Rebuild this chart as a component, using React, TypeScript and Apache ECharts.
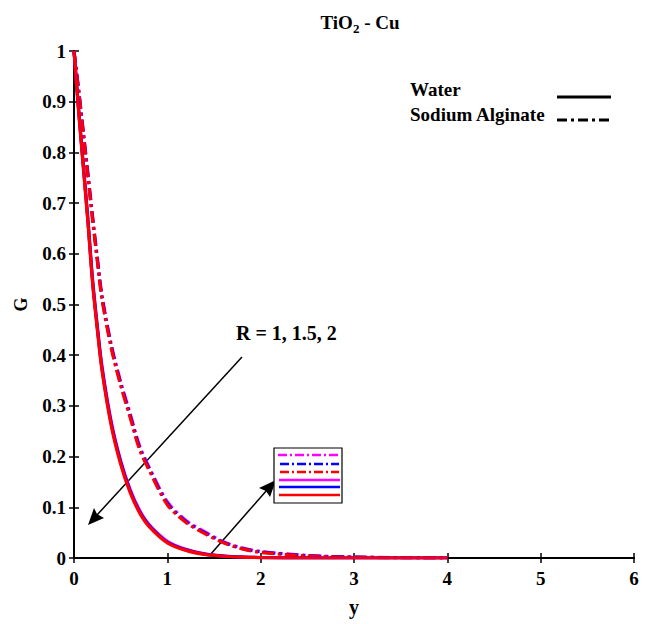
import React, { useEffect, useRef } from "react";
import * as echarts from "echarts";

const yPos = [0, 0.05, 0.1, 0.15, 0.2, 0.25, 0.3, 0.4, 0.5, 0.6, 0.7, 0.8, 1.0, 1.2, 1.4, 1.6, 1.8, 2.0, 2.5, 3.0, 3.5, 4.0];

const waterR1 = [1, 0.88, 0.77, 0.66, 0.54, 0.45, 0.37, 0.26, 0.185, 0.13, 0.09, 0.063, 0.03, 0.015, 0.007, 0.0035, 0.0017, 0.0008, 0.0001, 0, 0, 0];
const waterR15 = [1, 0.882, 0.773, 0.663, 0.544, 0.454, 0.374, 0.264, 0.189, 0.133, 0.092, 0.065, 0.031, 0.016, 0.0075, 0.0037, 0.0018, 0.0009, 0.0001, 0, 0, 0];
const waterR2 = [1, 0.884, 0.776, 0.667, 0.548, 0.458, 0.378, 0.268, 0.192, 0.136, 0.095, 0.067, 0.033, 0.017, 0.008, 0.004, 0.002, 0.001, 0.0001, 0, 0, 0];

const sodiumR1 = [1, 0.92, 0.835, 0.75, 0.665, 0.585, 0.51, 0.413, 0.34, 0.278, 0.215, 0.175, 0.105, 0.07, 0.048, 0.03, 0.018, 0.011, 0.004, 0.0015, 0.0005, 0.0002];
const sodiumR15 = [1, 0.922, 0.838, 0.754, 0.669, 0.589, 0.514, 0.417, 0.344, 0.282, 0.219, 0.178, 0.108, 0.072, 0.05, 0.031, 0.019, 0.012, 0.0045, 0.0017, 0.0006, 0.0002];
const sodiumR2 = [1, 0.924, 0.841, 0.758, 0.673, 0.593, 0.518, 0.421, 0.348, 0.286, 0.223, 0.181, 0.111, 0.074, 0.052, 0.032, 0.02, 0.013, 0.005, 0.0019, 0.0007, 0.0003];

const xTicks = [0, 1, 2, 3, 4, 5, 6];
const yTickLabels = ["0", "0.1", "0.2", "0.3", "0.4", "0.5", "0.6", "0.7", "0.8", "0.9", "1"];

const SERIF = "'Liberation Serif', 'DejaVu Serif', serif";
const DASHDOT = [12, 4, 3, 4];

function pairs(ys: number[]) {
  return yPos.map((x, i) => [x, ys[i]]);
}

export default function App() {
  const ref = useRef<HTMLDivElement>(null);
  useEffect(() => {
    document.body.style.margin = "0";
    const chart = echarts.init(ref.current!, undefined, { renderer: "svg" });
    const axisLabel = { color: "#000", fontFamily: SERIF, fontWeight: "bold" as const, fontSize: 19 };
    const mk = (name: string, data: number[], color: string, dash: boolean) => ({
      name,
      type: "line",
      data: pairs(data),
      showSymbol: false,
      smooth: 0.3,
      lineStyle: { color, width: 3.2, type: dash ? DASHDOT : "solid" },
      z: 3,
    });
    chart.setOption({
      animation: false,
      backgroundColor: "#fff",
      title: {
        text: "TiO{sub|2} - Cu",
        left: 355,
        textAlign: "center",
        top: 5,
        textStyle: {
          fontFamily: SERIF,
          fontWeight: "bold",
          fontSize: 19,
          color: "#000",
          rich: { sub: { fontFamily: SERIF, fontWeight: "bold", fontSize: 13, verticalAlign: "bottom", padding: [12, 0, 0, 0] } },
        },
      },
      grid: { left: 74, top: 51, right: 23, bottom: 66 },
      xAxis: [
        {
          type: "value",
          min: 0,
          max: 6,
          interval: 1,
          position: "bottom",
          axisLine: { lineStyle: { color: "#000", width: 2 } },
          axisTick: { inside: true, length: 5, lineStyle: { color: "#000", width: 1.5 } },
          axisLabel: { ...axisLabel, margin: 11, formatter: (v: number) => String(xTicks[v] ?? v) },
          splitLine: { show: false },
          name: "y",
          nameLocation: "middle",
          nameGap: 39,
          nameTextStyle: { ...axisLabel, fontSize: 20 },
        },
        {
          type: "value",
          min: 0,
          max: 6,
          interval: 1,
          position: "top",
          axisLine: { lineStyle: { color: "#000", width: 2 } },
          axisTick: { inside: true, length: 5, lineStyle: { color: "#000", width: 1.5 } },
          axisLabel: { show: false },
          splitLine: { show: false },
        },
      ],
      yAxis: [
        {
          type: "value",
          min: 0,
          max: 1,
          interval: 0.1,
          position: "left",
          axisLine: { lineStyle: { color: "#000", width: 2 } },
          axisTick: { inside: true, length: 5, lineStyle: { color: "#000", width: 1.5 } },
          axisLabel: { ...axisLabel, margin: 8, formatter: (v: number) => yTickLabels[Math.round(v * 10)] },
          splitLine: { show: false },
          name: "G",
          nameLocation: "middle",
          nameGap: 44,
          nameTextStyle: { ...axisLabel, fontSize: 18 },
        },
        {
          type: "value",
          min: 0,
          max: 1,
          interval: 0.1,
          position: "right",
          axisLine: { lineStyle: { color: "#000", width: 2 } },
          axisTick: { inside: true, length: 5, lineStyle: { color: "#000", width: 1.5 } },
          axisLabel: { show: false },
          splitLine: { show: false },
        },
      ],
      series: [
        mk("Sodium Alginate R=2", sodiumR2, "#ff00ff", true),
        mk("Sodium Alginate R=1.5", sodiumR15, "#0000ff", true),
        mk("Sodium Alginate R=1", sodiumR1, "#ff0000", true),
        mk("Water R=2", waterR2, "#ff00ff", false),
        mk("Water R=1.5", waterR15, "#0000ff", false),
        mk("Water R=1", waterR1, "#ff0000", false),
      ],
      graphic: [
        { type: "text", left: 410, top: 80, style: { text: "Water", font: `bold 19px ${SERIF}`, fill: "#000" } },
        { type: "text", left: 410, top: 105, style: { text: "Sodium Alginate", font: `bold 19px ${SERIF}`, fill: "#000" } },
        { type: "line", shape: { x1: 557, y1: 97, x2: 611, y2: 97 }, style: { stroke: "#000", lineWidth: 3 } },
        { type: "line", shape: { x1: 557, y1: 120, x2: 612, y2: 120 }, style: { stroke: "#000", lineWidth: 3, lineDash: [10, 4, 3, 4] } },
        { type: "text", left: 236, top: 323, style: { text: "R = 1, 1.5, 2", font: `bold 20px ${SERIF}`, fill: "#000" } },
        { type: "line", shape: { x1: 242, y1: 357, x2: 97, y2: 515 }, style: { stroke: "#000", lineWidth: 1.5 } },
        { type: "polygon", shape: { points: [[88, 525], [104, 518], [97, 514], [94, 508]] }, style: { fill: "#000" } },
        { type: "line", shape: { x1: 210, y1: 555, x2: 267, y2: 490 }, style: { stroke: "#000", lineWidth: 1.5 } },
        { type: "polygon", shape: { points: [[276, 480], [270, 497], [266, 491], [259, 488]] }, style: { fill: "#000" } },
        { type: "rect", shape: { x: 274, y: 448, width: 68, height: 55 }, style: { fill: "#fff", stroke: "#000", lineWidth: 1.2 } },
        { type: "line", shape: { x1: 278, y1: 455, x2: 339, y2: 455 }, style: { stroke: "#ff00ff", lineWidth: 2.5, lineDash: [9, 3, 2, 3] } },
        { type: "line", shape: { x1: 280, y1: 464, x2: 339, y2: 464 }, style: { stroke: "#0000ff", lineWidth: 2.5, lineDash: [9, 3, 2, 3] } },
        { type: "line", shape: { x1: 280, y1: 472, x2: 339, y2: 472 }, style: { stroke: "#ff0000", lineWidth: 2.5, lineDash: [9, 3, 2, 3] } },
        { type: "line", shape: { x1: 279, y1: 480, x2: 340, y2: 480 }, style: { stroke: "#ff00ff", lineWidth: 2.5 } },
        { type: "line", shape: { x1: 279, y1: 487, x2: 340, y2: 487 }, style: { stroke: "#0000ff", lineWidth: 2.5 } },
        { type: "line", shape: { x1: 279, y1: 495, x2: 340, y2: 495 }, style: { stroke: "#ff0000", lineWidth: 2.5 } },
      ],
    });
    return () => chart.dispose();
  }, []);
  return <div ref={ref} style={{ width: 657, height: 624 }} />;
}
